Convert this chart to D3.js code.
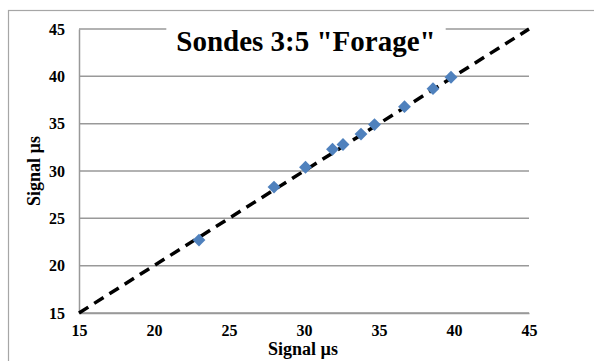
<!DOCTYPE html>
<html>
<head>
<meta charset="utf-8">
<script src="https://cdn.jsdelivr.net/npm/d3@7"></script>
<style>
  body { margin: 0; background: #fff; }
  text { font-family: 'Liberation Serif', 'Times New Roman', serif; font-weight: bold; }
</style>
</head>
<body>
<div id="wrapper"></div>
<script>
// Data
const signalX = [23.0, 28.0, 30.1, 31.9, 32.6, 33.8, 34.7, 36.7, 38.6, 39.8];
const signalY = [22.7, 28.3, 30.4, 32.3, 32.8, 33.9, 34.9, 36.8, 38.7, 39.9];
const refLineX = [15, 45];
const refLineY = [15, 45];
const xTicks = [15, 20, 25, 30, 35, 40, 45];
const yTicks = [15, 20, 25, 30, 35, 40, 45];
const chartTitle = 'Sondes 3:5 "Forage"';
const xTitle = 'Signal µs';
const yTitle = 'Signal µs';

const dataset = signalX.map((x, i) => ({ x, y: signalY[i] }));
const lineData = refLineX.map((x, i) => ({ x, y: refLineY[i] }));
const serif = "'Liberation Serif', 'Times New Roman', serif";

// Dimensions
let dimensions = {
  width: 594,
  height: 361,
  margin: { top: 29, right: 65, bottom: 48, left: 79 },
};
dimensions.boundedWidth =
  dimensions.width - dimensions.margin.left - dimensions.margin.right;
dimensions.boundedHeight =
  dimensions.height - dimensions.margin.top - dimensions.margin.bottom;

// Scales
const xScale = d3.scaleLinear().domain([15, 45]).range([0, dimensions.boundedWidth]);
const yScale = d3.scaleLinear().domain([15, 45]).range([dimensions.boundedHeight, 0]);

// Canvas
const wrapper = d3
  .select('#wrapper')
  .append('svg')
  .attr('width', dimensions.width)
  .attr('height', dimensions.height);

// outer chart frame
wrapper
  .append('rect')
  .attr('x', 8.5)
  .attr('y', 10.5)
  .attr('width', 700)
  .attr('height', 500)
  .attr('fill', 'none')
  .attr('stroke', '#a6a6a6')
  .attr('stroke-width', 1.2);

const bounds = wrapper
  .append('g')
  .attr('transform', `translate(${dimensions.margin.left}, ${dimensions.margin.top})`);

// Gridlines
bounds
  .append('g')
  .attr('class', 'grid')
  .selectAll('line')
  .data(yTicks)
  .join('line')
  .attr('x1', 0)
  .attr('x2', dimensions.boundedWidth)
  .attr('y1', (d) => yScale(d))
  .attr('y2', (d) => yScale(d))
  .attr('stroke', '#999')
  .attr('stroke-width', 1.5);

// y axis
const yAxis = d3.axisLeft(yScale).tickValues(yTicks).tickSize(0).tickPadding(14);
const yAxisG = bounds
  .append('g')
  .attr('id', 'y-axis')
  .call(yAxis)
  .attr('font-family', serif)
  .attr('font-size', 16)
  .attr('font-weight', 'bold');
yAxisG.select('.domain').attr('stroke', '#999').attr('stroke-width', 1.5);
yAxisG.selectAll('text').attr('fill', '#000');

// x axis
const xAxis = d3.axisBottom(xScale).tickValues(xTicks).tickSize(0).tickPadding(12);
const xAxisG = bounds
  .append('g')
  .attr('id', 'x-axis')
  .attr('transform', `translate(0, ${dimensions.boundedHeight})`)
  .call(xAxis)
  .attr('font-family', serif)
  .attr('font-size', 16)
  .attr('font-weight', 'bold');
xAxisG.select('.domain').attr('stroke', '#999').attr('stroke-width', 1.5);
xAxisG.selectAll('text').attr('fill', '#000');

// Reference line
const line = d3
  .line()
  .x((d) => xScale(d.x))
  .y((d) => yScale(d.y));
bounds
  .append('path')
  .datum(lineData)
  .attr('d', line)
  .attr('fill', 'none')
  .attr('stroke', '#000')
  .attr('stroke-width', 3.5)
  .attr('stroke-dasharray', '11,7');

// Points
const diamond = d3.symbol().type(d3.symbolDiamond2).size(105);
bounds
  .selectAll('.pt')
  .data(dataset)
  .join('path')
  .attr('class', 'pt')
  .attr('d', diamond)
  .attr('transform', (d) => `translate(${xScale(d.x)}, ${yScale(d.y)})`)
  .attr('fill', '#4f81bd');

// Title with white background
const titleBg = wrapper.append('rect').attr('fill', '#fff');
const title = wrapper
  .append('text')
  .attr('x', 306)
  .attr('y', 51)
  .attr('text-anchor', 'middle')
  .style('font-size', '29px')
  .text(chartTitle);
const bb = title.node().getBBox();
titleBg
  .attr('x', bb.x - 10)
  .attr('y', bb.y - 2)
  .attr('width', bb.width + 20)
  .attr('height', bb.height + 4);

// Axis titles
wrapper
  .append('text')
  .attr('x', 303)
  .attr('y', 355)
  .attr('text-anchor', 'middle')
  .style('font-size', '18px')
  .text(xTitle);

wrapper
  .append('text')
  .attr('transform', 'translate(40, 171) rotate(-90)')
  .attr('text-anchor', 'middle')
  .style('font-size', '18px')
  .text(yTitle);
</script>
</body>
</html>
